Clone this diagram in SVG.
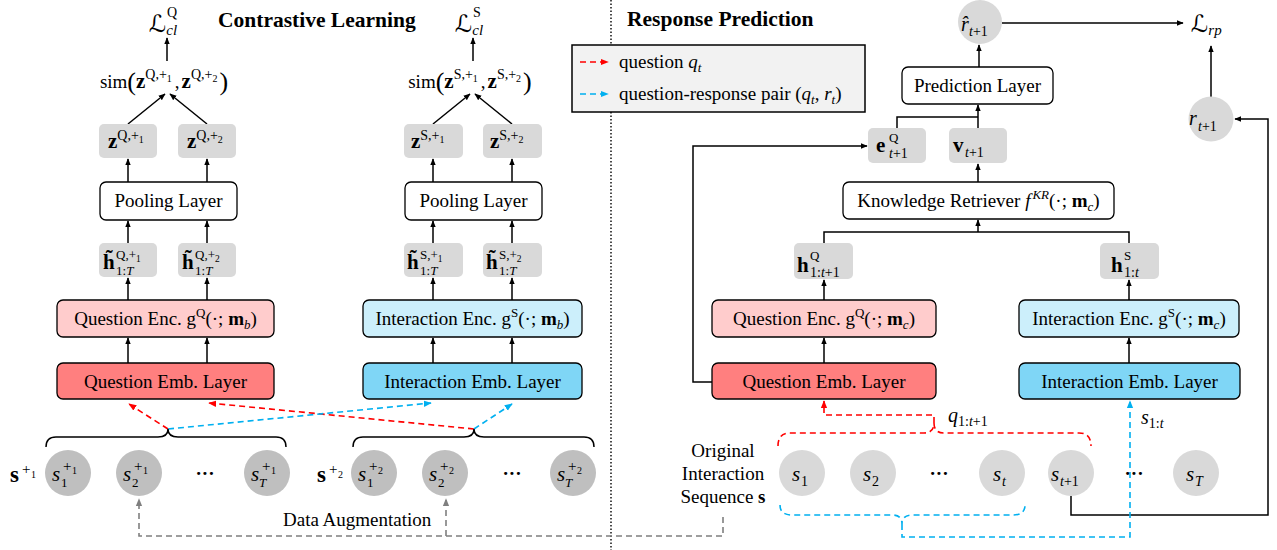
<svg xmlns="http://www.w3.org/2000/svg" width="1277" height="550" viewBox="0 0 1277 550">
<style>
text{font-family:"Liberation Serif","Times New Roman",serif;font-size:19px;fill:#000}
.i{font-style:italic}
.b{font-weight:bold}
.ttl{font-size:21.5px;font-weight:bold}
.cal{font-family:"DejaVu Sans",sans-serif;font-style:normal}
.box{stroke:#000;stroke-width:1.3}
.white{fill:#fff}
.qenc{fill:#FFCCCC}
.qemb{fill:#FF7F7F}
.ienc{fill:#CCEFFB}
.iemb{fill:#7FD6F6}
.vec{fill:#D9D9D9}
.c1{fill:#BFBFBF}
.c2{fill:#D9D9D9}
.ln{stroke:#000;stroke-width:1.5;fill:none}
.dr{stroke:#FF0000;stroke-width:1.6;stroke-dasharray:6 4;fill:none}
.db{stroke:#00B0F0;stroke-width:1.6;stroke-dasharray:6 4;fill:none}
.dg{stroke:#7F7F7F;stroke-width:1.6;stroke-dasharray:6 4;fill:none}
.brace{stroke:#000;stroke-width:1.5;fill:none}
.dot{stroke:#000;stroke-width:1.4;stroke-dasharray:1.5 2}
</style>
<defs>
<marker id="ah" viewBox="0 0 10 10" refX="9" refY="5" markerWidth="7" markerHeight="7" markerUnits="userSpaceOnUse" orient="auto"><path d="M0,1 L10,5 L0,9 z" fill="#000"/></marker>
<marker id="ahr" viewBox="0 0 10 10" refX="9" refY="5" markerWidth="8" markerHeight="8" markerUnits="userSpaceOnUse" orient="auto"><path d="M0,1 L10,5 L0,9 z" fill="#FF0000"/></marker>
<marker id="ahb" viewBox="0 0 10 10" refX="9" refY="5" markerWidth="8" markerHeight="8" markerUnits="userSpaceOnUse" orient="auto"><path d="M0,1 L10,5 L0,9 z" fill="#00B0F0"/></marker>
<marker id="ahg" viewBox="0 0 10 10" refX="9" refY="5" markerWidth="8" markerHeight="8" markerUnits="userSpaceOnUse" orient="auto"><path d="M0,1 L10,5 L0,9 z" fill="#7F7F7F"/></marker>
</defs>

<!-- section divider -->
<line class="dot" x1="611" y1="0" x2="611" y2="550"/>

<!-- section titles -->
<text class="ttl" x="218" y="27">Contrastive Learning</text>
<text class="ttl" x="627" y="26">Response Prediction</text>

<!-- connectors -->
<g id="connectors">
  <!-- left: question branch -->
  <path class="ln" d="M128,363V338" marker-end="url(#ah)"/>
  <path class="ln" d="M207,363V338" marker-end="url(#ah)"/>
  <path class="ln" d="M128,300V278" marker-end="url(#ah)"/>
  <path class="ln" d="M207,300V278" marker-end="url(#ah)"/>
  <path class="ln" d="M128,243V221" marker-end="url(#ah)"/>
  <path class="ln" d="M207,243V221" marker-end="url(#ah)"/>
  <path class="ln" d="M128,182V159" marker-end="url(#ah)"/>
  <path class="ln" d="M207,182V159" marker-end="url(#ah)"/>
  <path class="ln" d="M128,124L165,94" marker-end="url(#ah)"/>
  <path class="ln" d="M207,124L170,94" marker-end="url(#ah)"/>
  <path class="ln" d="M167,61V38" marker-end="url(#ah)"/>
  <!-- left: interaction branch -->
  <path class="ln" d="M433,363V338" marker-end="url(#ah)"/>
  <path class="ln" d="M512,363V338" marker-end="url(#ah)"/>
  <path class="ln" d="M433,300V278" marker-end="url(#ah)"/>
  <path class="ln" d="M512,300V278" marker-end="url(#ah)"/>
  <path class="ln" d="M433,243V221" marker-end="url(#ah)"/>
  <path class="ln" d="M512,243V221" marker-end="url(#ah)"/>
  <path class="ln" d="M433,182V159" marker-end="url(#ah)"/>
  <path class="ln" d="M512,182V159" marker-end="url(#ah)"/>
  <path class="ln" d="M433,124L470,94" marker-end="url(#ah)"/>
  <path class="ln" d="M512,124L475,94" marker-end="url(#ah)"/>
  <path class="ln" d="M473,61V38" marker-end="url(#ah)"/>

  <!-- right: response prediction -->
  <path class="ln" d="M824,363V338" marker-end="url(#ah)"/>
  <path class="ln" d="M824,300V280" marker-end="url(#ah)"/>
  <path class="ln" d="M1129,363V338" marker-end="url(#ah)"/>
  <path class="ln" d="M1129,300V280" marker-end="url(#ah)"/>
  <path class="ln" d="M824,243V232H1129V243"/>
  <path class="ln" d="M978,232V220" marker-end="url(#ah)"/>
  <path class="ln" d="M978,182V164" marker-end="url(#ah)"/>
  <path class="ln" d="M897,128V117H978"/>
  <path class="ln" d="M978,128V105" marker-end="url(#ah)"/>
  <path class="ln" d="M979,67V45" marker-end="url(#ah)"/>
  <path class="ln" d="M712,382H693V146H867" marker-end="url(#ah)"/>
  <path class="ln" d="M1002,23H1183" marker-end="url(#ah)"/>
  <path class="ln" d="M1211,97V46" marker-end="url(#ah)"/>
  <path class="ln" d="M1071,496V515H1268V119H1235" marker-end="url(#ah)"/>

  <!-- augmented sequences to embedding layers -->
  <path class="dr" d="M168,429L129,404" marker-end="url(#ahr)"/>
  <path class="dr" d="M474,429L209,403" marker-end="url(#ahr)"/>
  <path class="db" d="M168,429L431,403" marker-end="url(#ahb)"/>
  <path class="db" d="M474,429L512,404" marker-end="url(#ahb)"/>

  <!-- original sequence to embedding layers -->
  <path class="dr" d="M778,446Q778,433 790,433H924Q934,433 934,423Q934,433 944,433H1079Q1091,433 1091,446"/>
  <path class="dr" d="M934,423V415H824V401" marker-end="url(#ahr)"/>
  <path class="db" d="M780,505Q780,515 792,515H892Q902,515 902,524Q902,515 912,515H1013Q1025,515 1025,505"/>
  <path class="db" d="M902,524V537H1130V401" marker-end="url(#ahb)"/>

  <!-- data augmentation -->
  <path class="dg" d="M723,517V536H139V499" marker-end="url(#ahg)"/>
  <path class="dg" d="M446,536V499" marker-end="url(#ahg)"/>

  <!-- sequence braces -->
  <path class="brace" d="M46,447Q46,437 56,437H158Q168,437 168,429Q168,437 178,437H276Q286,437 286,447"/>
  <path class="brace" d="M353,447Q353,437 363,437H464Q474,437 474,429Q474,437 484,437H584Q594,437 594,447"/>
</g>

<!-- losses and similarity -->
<g id="loss-cl-q">
  <text x="149" y="32"><tspan class="cal" font-size="24">ℒ</tspan><tspan class="i" font-size="15" dy="3">cl</tspan><tspan font-size="14" x="167" y="17">Q</tspan></text>
</g>
<g id="sim-q">
  <text x="164" y="88" text-anchor="middle">sim<tspan font-size="26" dy="2">(</tspan><tspan class="b" font-size="21" dy="-2">z</tspan><tspan font-size="14" dy="-9">Q,+</tspan><tspan font-size="10" dy="3">1</tspan><tspan dy="6" dx="3">,</tspan><tspan class="b" font-size="21" dx="2">z</tspan><tspan font-size="14" dy="-9">Q,+</tspan><tspan font-size="10" dy="3">2</tspan><tspan font-size="26" dy="8" dx="2">)</tspan></text>
</g>
<g id="loss-cl-s">
  <text x="455" y="32"><tspan class="cal" font-size="24">ℒ</tspan><tspan class="i" font-size="15" dy="3">cl</tspan><tspan font-size="14" x="473" y="17">S</tspan></text>
</g>
<g id="sim-s">
  <text x="470" y="88" text-anchor="middle">sim<tspan font-size="26" dy="2">(</tspan><tspan class="b" font-size="21" dy="-2">z</tspan><tspan font-size="14" dy="-9">S,+</tspan><tspan font-size="10" dy="3">1</tspan><tspan dy="6" dx="3">,</tspan><tspan class="b" font-size="21" dx="2">z</tspan><tspan font-size="14" dy="-9">S,+</tspan><tspan font-size="10" dy="3">2</tspan><tspan font-size="26" dy="8" dx="2">)</tspan></text>
</g>

<!-- left question branch -->
<g id="z-q1"><rect class="vec" x="99" y="124" width="58" height="34" rx="5"/>
  <text y="148"><tspan x="108" class="b" font-size="21">z</tspan><tspan font-size="14" dy="-8">Q,+</tspan><tspan font-size="10" dy="3">1</tspan></text></g>
<g id="z-q2"><rect class="vec" x="178" y="124" width="58" height="34" rx="5"/>
  <text y="148"><tspan x="187" class="b" font-size="21">z</tspan><tspan font-size="14" dy="-8">Q,+</tspan><tspan font-size="10" dy="3">2</tspan></text></g>
<g id="pool-q"><rect class="box white" x="100" y="182" width="137" height="38" rx="6"/>
  <text x="168.5" y="207" text-anchor="middle">Pooling Layer</text></g>
<g id="h-q1"><rect class="vec" x="99" y="243" width="58" height="34" rx="5"/>
  <text><tspan x="103" y="269" class="b" font-size="21">h&#x303;</tspan><tspan x="116" y="259" font-size="13">Q,+</tspan><tspan font-size="9.5" dy="3">1</tspan><tspan x="116" y="275" font-size="13">1:<tspan class="i">T</tspan></tspan></text></g>
<g id="h-q2"><rect class="vec" x="178" y="243" width="58" height="34" rx="5"/>
  <text><tspan x="182" y="269" class="b" font-size="21">h&#x303;</tspan><tspan x="195" y="259" font-size="13">Q,+</tspan><tspan font-size="9.5" dy="3">2</tspan><tspan x="195" y="275" font-size="13">1:<tspan class="i">T</tspan></tspan></text></g>
<g id="qenc-aug"><rect class="box qenc" x="57" y="300" width="217" height="37" rx="6"/>
  <text x="165.5" y="325" text-anchor="middle">Question Enc. g<tspan font-size="13" dy="-8">Q</tspan><tspan dy="8">(·; </tspan><tspan class="b">m</tspan><tspan class="i" font-size="13" dy="4">b</tspan><tspan dy="-4">)</tspan></text></g>
<g id="qemb-aug"><rect class="box qemb" x="57" y="363" width="217" height="36" rx="6"/>
  <text x="165.5" y="388" text-anchor="middle">Question Emb. Layer</text></g>

<!-- left interaction branch -->
<g id="z-s1"><rect class="vec" x="404" y="124" width="59" height="34" rx="5"/>
  <text y="148"><tspan x="411" class="b" font-size="21">z</tspan><tspan font-size="14" dy="-8">S,+</tspan><tspan font-size="10" dy="3">1</tspan></text></g>
<g id="z-s2"><rect class="vec" x="483" y="124" width="59" height="34" rx="5"/>
  <text y="148"><tspan x="490" class="b" font-size="21">z</tspan><tspan font-size="14" dy="-8">S,+</tspan><tspan font-size="10" dy="3">2</tspan></text></g>
<g id="pool-s"><rect class="box white" x="405" y="182" width="137" height="38" rx="6"/>
  <text x="473.5" y="207" text-anchor="middle">Pooling Layer</text></g>
<g id="h-s1"><rect class="vec" x="404" y="243" width="59" height="34" rx="5"/>
  <text><tspan x="407" y="269" class="b" font-size="21">h&#x303;</tspan><tspan x="420" y="259" font-size="13">S,+</tspan><tspan font-size="9.5" dy="3">1</tspan><tspan x="420" y="275" font-size="13">1:<tspan class="i">T</tspan></tspan></text></g>
<g id="h-s2"><rect class="vec" x="483" y="243" width="59" height="34" rx="5"/>
  <text><tspan x="486" y="269" class="b" font-size="21">h&#x303;</tspan><tspan x="499" y="259" font-size="13">S,+</tspan><tspan font-size="9.5" dy="3">2</tspan><tspan x="499" y="275" font-size="13">1:<tspan class="i">T</tspan></tspan></text></g>
<g id="ienc-aug"><rect class="box ienc" x="363" y="300" width="219" height="37" rx="6"/>
  <text x="472.5" y="325" text-anchor="middle">Interaction Enc. g<tspan font-size="13" dy="-8">S</tspan><tspan dy="8">(·; </tspan><tspan class="b">m</tspan><tspan class="i" font-size="13" dy="4">b</tspan><tspan dy="-4">)</tspan></text></g>
<g id="iemb-aug"><rect class="box iemb" x="363" y="363" width="219" height="36" rx="6"/>
  <text x="472.5" y="388" text-anchor="middle">Interaction Emb. Layer</text></g>

<!-- augmented sequence s+1 -->
<g id="seq-aug1">
  <text x="10" y="482"><tspan class="b" font-size="23">s</tspan><tspan font-size="15" x="22" y="474">+</tspan><tspan font-size="10" x="31" y="478">1</tspan></text>
</g>
<g id="s1-aug1"><circle class="c1" cx="68" cy="473" r="23"/>
  <text><tspan class="i" font-size="21" x="52" y="481">s</tspan><tspan font-size="13" x="61" y="487">1</tspan><tspan font-size="15" x="63" y="471">+</tspan><tspan font-size="10" x="72" y="474">1</tspan></text></g>
<g id="s2-aug1"><circle class="c1" cx="139" cy="473" r="23"/>
  <text><tspan class="i" font-size="21" x="123" y="481">s</tspan><tspan font-size="13" x="132" y="487">2</tspan><tspan font-size="15" x="134" y="471">+</tspan><tspan font-size="10" x="143" y="474">1</tspan></text></g>
<text class="b" x="205" y="480" text-anchor="middle" font-size="22">···</text>
<g id="sT-aug1"><circle class="c1" cx="267" cy="473" r="23"/>
  <text><tspan class="i" font-size="21" x="251" y="481">s</tspan><tspan class="i" font-size="13" x="259" y="487">T</tspan><tspan font-size="15" x="262" y="471">+</tspan><tspan font-size="10" x="271" y="474">1</tspan></text></g>

<!-- augmented sequence s+2 -->
<g id="seq-aug2">
  <text x="317" y="482"><tspan class="b" font-size="23">s</tspan><tspan font-size="15" x="329" y="474">+</tspan><tspan font-size="10" x="338" y="478">2</tspan></text>
</g>
<g id="s1-aug2"><circle class="c1" cx="374" cy="473" r="23"/>
  <text><tspan class="i" font-size="21" x="358" y="481">s</tspan><tspan font-size="13" x="367" y="487">1</tspan><tspan font-size="15" x="369" y="471">+</tspan><tspan font-size="10" x="378" y="474">2</tspan></text></g>
<g id="s2-aug2"><circle class="c1" cx="445" cy="473" r="23"/>
  <text><tspan class="i" font-size="21" x="429" y="481">s</tspan><tspan font-size="13" x="438" y="487">2</tspan><tspan font-size="15" x="440" y="471">+</tspan><tspan font-size="10" x="449" y="474">2</tspan></text></g>
<text class="b" x="512" y="480" text-anchor="middle" font-size="22">···</text>
<g id="sT-aug2"><circle class="c1" cx="573" cy="473" r="23"/>
  <text><tspan class="i" font-size="21" x="557" y="481">s</tspan><tspan class="i" font-size="13" x="565" y="487">T</tspan><tspan font-size="15" x="568" y="471">+</tspan><tspan font-size="10" x="577" y="474">2</tspan></text></g>

<text x="283" y="526">Data Augmentation</text>

<!-- legend -->
<g id="legend">
  <rect x="572" y="45" width="293" height="67" fill="#F2F2F2" stroke="#000" stroke-width="1.5"/>
  <path class="dr" d="M580,62H608" marker-end="url(#ahr)"/>
  <path class="db" d="M580,94H608" marker-end="url(#ahb)"/>
  <text x="619" y="68">question <tspan class="i">q</tspan><tspan class="i" font-size="13" dy="4">t</tspan></text>
  <text x="619" y="100">question-response pair (<tspan class="i">q</tspan><tspan class="i" font-size="13" dy="4">t</tspan><tspan dy="-4">, </tspan><tspan class="i">r</tspan><tspan class="i" font-size="13" dy="4">t</tspan><tspan dy="-4">)</tspan></text>
</g>

<!-- response prediction -->
<g id="r-hat"><circle class="c2" cx="980" cy="22" r="22"/>
  <text><tspan class="i" x="961" y="31" font-size="20">r&#x302;</tspan><tspan class="i" font-size="14" x="969" y="36">t</tspan><tspan font-size="14">+1</tspan></text></g>
<g id="loss-rp">
  <text x="1191" y="32"><tspan class="cal" font-size="24">ℒ</tspan><tspan class="i" font-size="15" dy="3">rp</tspan></text>
</g>
<g id="r-true"><circle class="c2" cx="1211" cy="119" r="22.5"/>
  <text><tspan class="i" x="1189" y="125" font-size="20">r</tspan><tspan class="i" font-size="14" x="1198" y="131">t</tspan><tspan font-size="14">+1</tspan></text></g>
<g id="pred-layer"><rect class="box white" x="902" y="67" width="151" height="37" rx="6"/>
  <text x="977.5" y="92" text-anchor="middle">Prediction Layer</text></g>
<g id="e-q"><rect class="vec" x="868" y="128" width="58" height="35" rx="5"/>
  <text><tspan class="b" x="876" y="152" font-size="21">e</tspan><tspan x="889" y="142" font-size="13">Q</tspan><tspan class="i" x="889" y="158" font-size="14">t</tspan><tspan font-size="14">+1</tspan></text></g>
<g id="v"><rect class="vec" x="949" y="128" width="58" height="35" rx="5"/>
  <text><tspan class="b" x="953" y="152" font-size="21">v</tspan><tspan class="i" x="965" y="157" font-size="14">t</tspan><tspan font-size="14">+1</tspan></text></g>
<g id="kr"><rect class="box white" x="843" y="182" width="271" height="37" rx="6"/>
  <text x="978.5" y="207" text-anchor="middle">Knowledge Retriever <tspan class="i">f</tspan><tspan class="i" font-size="13" dy="-8" dx="2">KR</tspan><tspan dy="8">(·; </tspan><tspan class="b">m</tspan><tspan class="i" font-size="13" dy="4">c</tspan><tspan dy="-4">)</tspan></text></g>
<g id="h-q"><rect class="vec" x="794" y="243" width="59" height="36" rx="5"/>
  <text><tspan class="b" x="797" y="272" font-size="21">h</tspan><tspan x="810" y="260" font-size="13">Q</tspan><tspan x="810" y="277" font-size="14">1:<tspan class="i">t</tspan>+1</tspan></text></g>
<g id="h-s"><rect class="vec" x="1100" y="243" width="59" height="36" rx="5"/>
  <text><tspan class="b" x="1111" y="272" font-size="21">h</tspan><tspan x="1124" y="260" font-size="13">S</tspan><tspan x="1124" y="277" font-size="14">1:<tspan class="i">t</tspan></tspan></text></g>
<g id="qenc"><rect class="box qenc" x="712" y="300" width="224" height="37" rx="6"/>
  <text x="824" y="325" text-anchor="middle">Question Enc. g<tspan font-size="13" dy="-8">Q</tspan><tspan dy="8">(·; </tspan><tspan class="b">m</tspan><tspan class="i" font-size="13" dy="4">c</tspan><tspan dy="-4">)</tspan></text></g>
<g id="qemb"><rect class="box qemb" x="712" y="363" width="224" height="36" rx="6"/>
  <text x="824" y="388" text-anchor="middle">Question Emb. Layer</text></g>
<g id="ienc"><rect class="box ienc" x="1019" y="300" width="220" height="37" rx="6"/>
  <text x="1129" y="325" text-anchor="middle">Interaction Enc. g<tspan font-size="13" dy="-8">S</tspan><tspan dy="8">(·; </tspan><tspan class="b">m</tspan><tspan class="i" font-size="13" dy="4">c</tspan><tspan dy="-4">)</tspan></text></g>
<g id="iemb"><rect class="box iemb" x="1019" y="363" width="221" height="36" rx="6"/>
  <text x="1129.5" y="388" text-anchor="middle">Interaction Emb. Layer</text></g>

<text x="948" y="422"><tspan class="i" font-size="20">q</tspan><tspan font-size="14" dy="4">1:<tspan class="i">t</tspan>+1</tspan></text>
<text x="1141" y="424"><tspan class="i" font-size="20">s</tspan><tspan font-size="14" dy="4">1:<tspan class="i">t</tspan></tspan></text>

<!-- original interaction sequence -->
<g id="seq-orig">
  <text x="723" y="457" text-anchor="middle">Original</text>
  <text x="723" y="480" text-anchor="middle">Interaction</text>
  <text x="723" y="503" text-anchor="middle">Sequence <tspan class="b">s</tspan></text>
</g>
<g id="s1"><circle class="c2" cx="802" cy="473" r="23"/>
  <text><tspan class="i" font-size="21" x="792" y="481">s</tspan><tspan font-size="14" x="801" y="486">1</tspan></text></g>
<g id="s2"><circle class="c2" cx="873" cy="473" r="23"/>
  <text><tspan class="i" font-size="21" x="863" y="481">s</tspan><tspan font-size="14" x="872" y="486">2</tspan></text></g>
<text class="b" x="939" y="480" text-anchor="middle" font-size="22">···</text>
<g id="st"><circle class="c2" cx="1002" cy="473" r="23"/>
  <text><tspan class="i" font-size="21" x="993" y="481">s</tspan><tspan class="i" font-size="14" x="1002" y="486">t</tspan></text></g>
<g id="st1"><circle class="c2" cx="1071" cy="473" r="23"/>
  <text><tspan class="i" font-size="21" x="1051" y="481">s</tspan><tspan class="i" font-size="14" x="1060" y="486">t</tspan><tspan font-size="14">+1</tspan></text></g>
<text class="b" x="1134" y="480" text-anchor="middle" font-size="22">···</text>
<g id="sT"><circle class="c2" cx="1196" cy="473" r="23"/>
  <text><tspan class="i" font-size="21" x="1186" y="481">s</tspan><tspan class="i" font-size="14" x="1195" y="486">T</tspan></text></g>
</svg>
